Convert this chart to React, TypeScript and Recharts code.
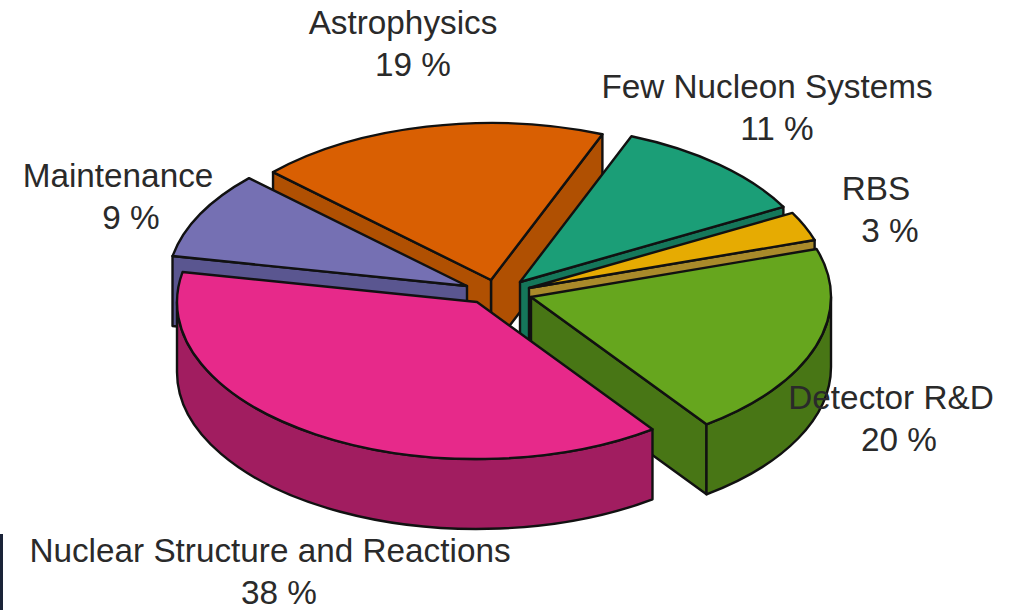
import React from 'react';
import { PieChart, Pie } from 'recharts';

const topics = ['Maintenance', 'Astrophysics', 'Few Nucleon Systems', 'RBS', 'Detector R&D', 'Nuclear Structure and Reactions'];
const shares = [9, 19, 11, 3, 20, 38];
const topColors = ['#7570B3', '#D95F02', '#1B9E77', '#E6AB02', '#66A61E', '#E7298A'];
const sideColors = ['#5A5690', '#B05002', '#15775A', '#A98A2A', '#487615', '#A11D60'];

const data = topics.map((name, i) => ({ name, value: shares[i] }));

// Projection of the tilted disc
const RX = 300;
const RY = 157;
const DEPTH = 70;
const CX = 498;
const CY = 290;

// How far each slice is pulled out of the pie, same order as topics
const shiftX = [-31, -7, 22, 31, 33, -21];
const shiftY = [-4, -10, -8, -2, 7, 12];

// Text anchors: name x, percent x, first baseline
const nameX = [118, 403, 767, 876, 891, 270];
const percentX = [131, 413, 777, 890, 899, 279];
const nameY = [187, 34, 98, 200, 409, 562];

const LINE_GAP = 42;
const BACK_SLICE = 1; // Astrophysics sits behind everything, even its neighbour Maintenance

const rad = (deg: number) => (deg * Math.PI) / 180;

const Slice3D = (props: any) => {
  const { cx, cy, startAngle, endAngle, index } = props;
  const lo = Math.min(startAngle, endAngle);
  const sweep = Math.abs(endAngle - startAngle);
  const a = ((lo % 360) + 360) % 360;
  const b = a + sweep;
  const ox = cx + shiftX[index];
  const oy = cy + shiftY[index];
  const px = (deg: number) => ox + RX * Math.cos(rad(deg));
  const py = (deg: number) => oy - RY * Math.sin(rad(deg));

  const radialWall = (deg: number) =>
    `M${ox},${oy} L${px(deg)},${py(deg)} L${px(deg)},${py(deg) + DEPTH} L${ox},${oy + DEPTH} Z`;

  const walls: string[] = [];
  if (Math.cos(rad(a)) > 0) walls.push(radialWall(a));
  if (Math.cos(rad(b)) < 0) walls.push(radialWall(b));

  // Only the lower half of the rim faces the viewer
  const rimFrom = Math.max(a, 180);
  const rimTo = Math.min(b, 360);
  if (rimTo > rimFrom) {
    const big = rimTo - rimFrom > 180 ? 1 : 0;
    walls.push(
      `M${px(rimFrom)},${py(rimFrom)} A${RX},${RY} 0 ${big} 0 ${px(rimTo)},${py(rimTo)} ` +
        `L${px(rimTo)},${py(rimTo) + DEPTH} A${RX},${RY} 0 ${big} 1 ${px(rimFrom)},${py(rimFrom) + DEPTH} Z`
    );
  }

  const top = `M${ox},${oy} L${px(a)},${py(a)} A${RX},${RY} 0 ${sweep > 180 ? 1 : 0} 0 ${px(b)},${py(b)} Z`;

  return (
    <g stroke="#111" strokeWidth={2.4} strokeLinejoin="round">
      {walls.map((d, i) => (
        <path key={i} d={d} fill={sideColors[index]} />
      ))}
      <path d={top} fill={topColors[index]} />
    </g>
  );
};

const BackLayer = (props: any) => (props.index === BACK_SLICE ? <Slice3D {...props} /> : <g />);
const FrontLayer = (props: any) => (props.index === BACK_SLICE ? <g /> : <Slice3D {...props} />);

const SliceLabel = (props: any) => {
  const { index, name, value } = props;
  return (
    <g fill="#2a2a2a" stroke="none" fontFamily="'Liberation Sans', Arial, sans-serif" fontSize={33.3} textAnchor="middle">
      <text x={nameX[index]} y={nameY[index]}>{name}</text>
      <text x={percentX[index]} y={nameY[index] + LINE_GAP}>{`${value} %`}</text>
    </g>
  );
};

export default function App() {
  const pieProps = {
    data,
    dataKey: 'value',
    nameKey: 'name',
    cx: CX,
    cy: CY,
    outerRadius: RX,
    startAngle: 169,
    endAngle: -191,
    isAnimationActive: false,
  };
  return (
    <div style={{ position: 'absolute', left: 0, top: 0, width: 1018, height: 610, overflow: 'hidden', background: '#fff' }}>
      <PieChart width={1018} height={610} margin={{ top: 0, right: 0, bottom: 0, left: 0 }}>
        <Pie {...pieProps} shape={BackLayer} />
        <Pie {...pieProps} shape={FrontLayer} label={SliceLabel} labelLine={false} />
      </PieChart>
      <div style={{ position: 'absolute', left: 0, top: 534, width: 3, height: 76, background: '#1a2338' }} />
    </div>
  );
}
